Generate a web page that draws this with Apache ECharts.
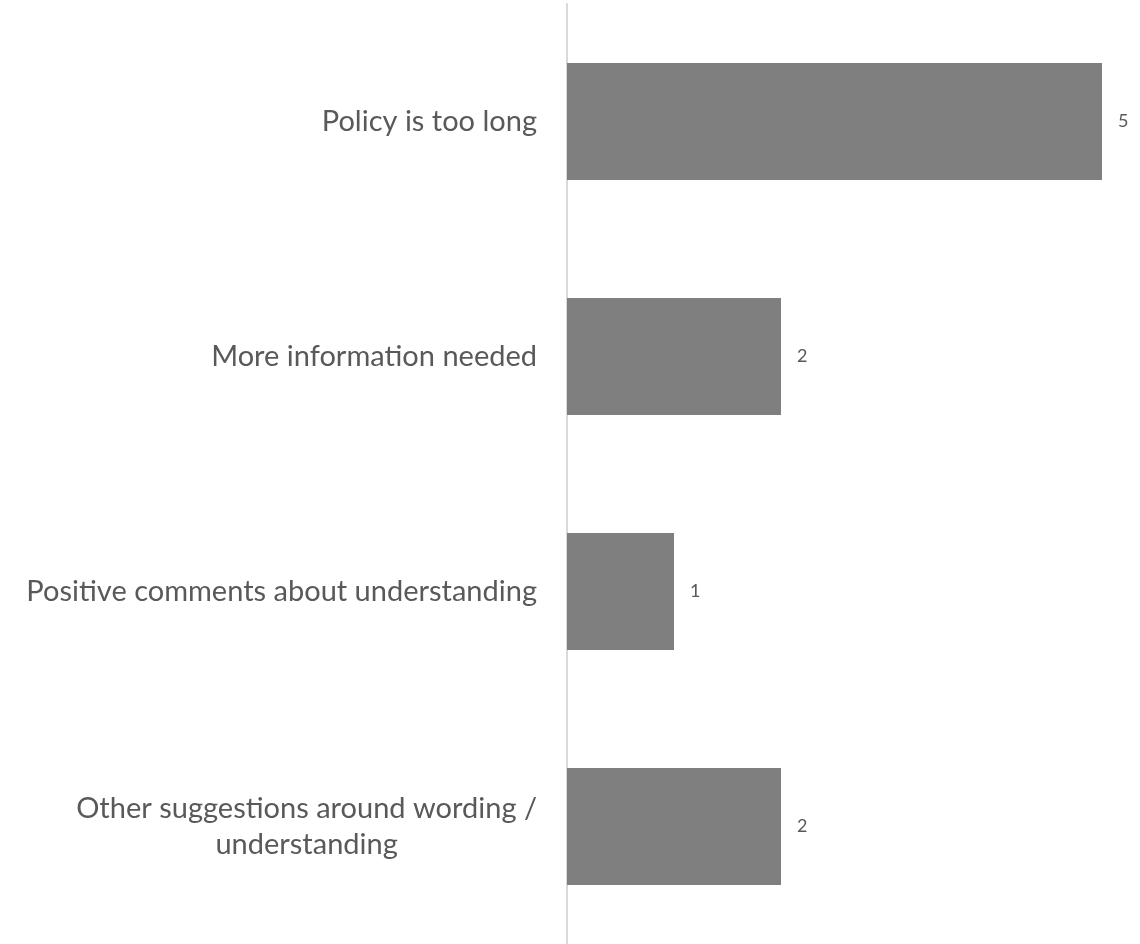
<!DOCTYPE html>
<html>
<head>
<meta charset="utf-8">
<script src="https://cdn.jsdelivr.net/npm/echarts@6/dist/echarts.min.js"></script>
<style>
  html, body { margin: 0; padding: 0; background: #fff; }
  #chart { width: 1140px; height: 944px; }
</style>
</head>
<body>
<div id="chart"></div>
<script>
const categories = [
    'Policy is too long',
    'More information needed',
    'Positive comments about understanding',
    'Other suggestions around wording / understanding'
];
const counts = [5, 2, 1, 2];

// greedy word wrap, rough char limit
function wrap(s, limit) {
    const words = s.split(' ');
    const lines = [];
    let cur = '';
    words.forEach((w) => {
        if (cur && (cur + ' ' + w).length > limit) {
            lines.push(cur);
            cur = w;
        } else {
            cur = cur ? cur + ' ' + w : w;
        }
    });
    if (cur) lines.push(cur);
    return lines;
}

const chart = echarts.init(document.getElementById('chart'));
const option = {
    animation: false,
    grid: {
        left: 567,
        right: 38,
        top: 4,
        bottom: 0
    },
    xAxis: {
        type: 'value',
        min: 0,
        max: 5,
        show: false
    },
    yAxis: {
        type: 'category',
        data: categories,
        inverse: true,
        axisTick: { show: false },
        axisLine: {
            show: true,
            lineStyle: { color: '#d9d9d9', width: 2 }
        },
        axisLabel: {
            margin: 30,
            formatter: function (v) {
                return wrap(v, 37).map((l) => '{c|' + l + '}').join('\n');
            },
            rich: {
                c: {
                    align: 'center',
                    fontFamily: 'Lato',
                    fontSize: 29,
                    lineHeight: 36,
                    color: '#595959'
                }
            }
        }
    },
    series: [
        {
            type: 'bar',
            data: counts,
            barWidth: 117,
            itemStyle: { color: '#7f7f7f' },
            label: {
                show: true,
                position: 'right',
                distance: 16,
                fontFamily: 'Lato',
                fontSize: 18,
                color: '#595959'
            }
        }
    ]
};
chart.setOption(option);
</script>
</body>
</html>
